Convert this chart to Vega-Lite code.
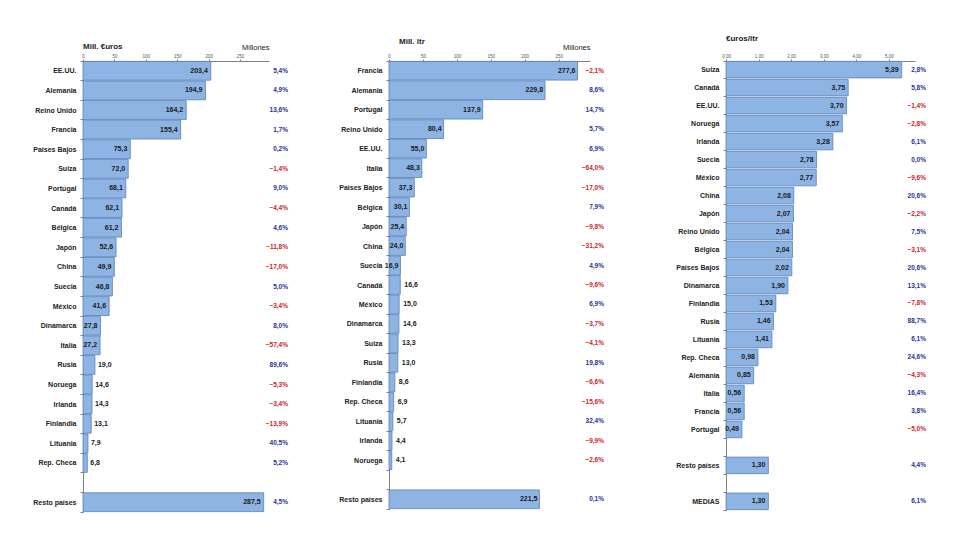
{
  "$schema": "https://vega.github.io/schema/vega-lite/v6.json",
  "padding": {"left": 5, "top": 35, "right": 5, "bottom": 5},
  "background": "white",
  "config": {
    "locale": {"number": {"decimal": ",", "thousands": ".", "grouping": [3], "currency": ["", " €"]}},
    "font": "Liberation Sans",
    "view": {"stroke": null},
    "concat": {"spacing": 10},
    "axis": {"labelOverlap": false},
    "axisY": {"domainColor": "#808080", "tickColor": "#808080", "tickBand": "extent", "tickSize": 3, "labelFontSize": 7, "labelFontWeight": "bold", "labelColor": "#222222", "labelPadding": 4, "title": null, "grid": false},
    "axisX": {"orient": "top", "domainColor": "#808080", "tickColor": "#808080", "tickSize": 2, "labelFontSize": 4.5, "labelColor": "#555555", "labelPadding": 1, "labelOverlap": false, "labelSeparation": 0, "labelBound": false, "labelFlush": false, "grid": false, "titleFontSize": 7.5, "titleFontWeight": "normal", "titleColor": "#222222", "titleAnchor": "end", "titlePadding": 2},
    "title": {"anchor": "start", "frame": "group", "fontSize": 8, "fontWeight": "bold", "color": "#222222"}
  },
  "datasets": {
    "eur": [
      {"pais": "EE.UU.", "v": 203.4, "pct": 0.054},
      {"pais": "Alemania", "v": 194.9, "pct": 0.049},
      {"pais": "Reino Unido", "v": 164.2, "pct": 0.136},
      {"pais": "Francia", "v": 155.4, "pct": 0.017},
      {"pais": "Países Bajos", "v": 75.3, "pct": 0.002},
      {"pais": "Suiza", "v": 72.0, "pct": -0.014},
      {"pais": "Portugal", "v": 68.1, "pct": 0.090},
      {"pais": "Canadá", "v": 62.1, "pct": -0.044},
      {"pais": "Bélgica", "v": 61.2, "pct": 0.046},
      {"pais": "Japón", "v": 52.6, "pct": -0.118},
      {"pais": "China", "v": 49.9, "pct": -0.170},
      {"pais": "Suecia", "v": 46.8, "pct": 0.050},
      {"pais": "México", "v": 41.6, "pct": -0.034},
      {"pais": "Dinamarca", "v": 27.8, "pct": 0.080},
      {"pais": "Italia", "v": 27.2, "pct": -0.574},
      {"pais": "Rusia", "v": 19.0, "pct": 0.896},
      {"pais": "Noruega", "v": 14.6, "pct": -0.053},
      {"pais": "Irlanda", "v": 14.3, "pct": -0.034},
      {"pais": "Finlandia", "v": 13.1, "pct": -0.139},
      {"pais": "Lituania", "v": 7.9, "pct": 0.405},
      {"pais": "Rep. Checa", "v": 6.8, "pct": 0.052},
      {"pais": "Resto países", "v": 287.5, "pct": 0.045}
    ],
    "ltr": [
      {"pais": "Francia", "v": 277.6, "pct": -0.021},
      {"pais": "Alemania", "v": 229.8, "pct": 0.086},
      {"pais": "Portugal", "v": 137.9, "pct": 0.147},
      {"pais": "Reino Unido", "v": 80.4, "pct": 0.057},
      {"pais": "EE.UU.", "v": 55.0, "pct": 0.069},
      {"pais": "Italia", "v": 48.3, "pct": -0.640},
      {"pais": "Países Bajos", "v": 37.3, "pct": -0.170},
      {"pais": "Bélgica", "v": 30.1, "pct": 0.079},
      {"pais": "Japón", "v": 25.4, "pct": -0.098},
      {"pais": "China", "v": 24.0, "pct": -0.312},
      {"pais": "Suecia", "v": 16.9, "pct": 0.049},
      {"pais": "Canadá", "v": 16.6, "pct": -0.096},
      {"pais": "México", "v": 15.0, "pct": 0.069},
      {"pais": "Dinamarca", "v": 14.6, "pct": -0.037},
      {"pais": "Suiza", "v": 13.3, "pct": -0.041},
      {"pais": "Rusia", "v": 13.0, "pct": 0.198},
      {"pais": "Finlandia", "v": 8.6, "pct": -0.066},
      {"pais": "Rep. Checa", "v": 6.9, "pct": -0.156},
      {"pais": "Lituania", "v": 5.7, "pct": 0.324},
      {"pais": "Irlanda", "v": 4.4, "pct": -0.099},
      {"pais": "Noruega", "v": 4.1, "pct": -0.026},
      {"pais": "Resto países", "v": 221.5, "pct": 0.001}
    ],
    "pl": [
      {"pais": "Suiza", "v": 5.39, "pct": 0.028},
      {"pais": "Canadá", "v": 3.75, "pct": 0.058},
      {"pais": "EE.UU.", "v": 3.70, "pct": -0.014},
      {"pais": "Noruega", "v": 3.57, "pct": -0.028},
      {"pais": "Irlanda", "v": 3.28, "pct": 0.061},
      {"pais": "Suecia", "v": 2.78, "pct": 0.000},
      {"pais": "México", "v": 2.77, "pct": -0.096},
      {"pais": "China", "v": 2.08, "pct": 0.206},
      {"pais": "Japón", "v": 2.07, "pct": -0.022},
      {"pais": "Reino Unido", "v": 2.04, "pct": 0.075},
      {"pais": "Bélgica", "v": 2.04, "pct": -0.031},
      {"pais": "Países Bajos", "v": 2.02, "pct": 0.206},
      {"pais": "Dinamarca", "v": 1.90, "pct": 0.131},
      {"pais": "Finlandia", "v": 1.53, "pct": -0.078},
      {"pais": "Rusia", "v": 1.46, "pct": 0.887},
      {"pais": "Lituania", "v": 1.41, "pct": 0.061},
      {"pais": "Rep. Checa", "v": 0.98, "pct": 0.246},
      {"pais": "Alemania", "v": 0.85, "pct": -0.043},
      {"pais": "Italia", "v": 0.56, "pct": 0.164},
      {"pais": "Francia", "v": 0.56, "pct": 0.038},
      {"pais": "Portugal", "v": 0.49, "pct": -0.050},
      {"pais": "Resto países", "v": 1.30, "pct": 0.044},
      {"pais": "MEDIAS", "v": 1.30, "pct": 0.061}
    ]
  },
  "hconcat": [
    {
      "width": 186,
      "height": 451,
      "data": {"name": "eur"},
      "title": {"text": "Mill. €uros", "offset": -8},
      "encoding": {
        "y": {"field": "pais", "type": "nominal", "scale": {"domain": ["EE.UU.", "Alemania", "Reino Unido", "Francia", "Países Bajos", "Suiza", "Portugal", "Canadá", "Bélgica", "Japón", "China", "Suecia", "México", "Dinamarca", "Italia", "Rusia", "Noruega", "Irlanda", "Finlandia", "Lituania", "Rep. Checa", " ", "Resto países"], "paddingInner": 0.04, "paddingOuter": 0.02}, "axis": {"minExtent": 78, "maxExtent": 78}}
      },
      "layer": [
        {"mark": {"type": "bar", "fill": "#8eb4e3", "stroke": "#5a80b8", "strokeWidth": 0.8},
         "encoding": {"x": {"field": "v", "type": "quantitative", "scale": {"domain": [0, 296], "nice": false}, "axis": {"values": [0, 50, 100, 150, 200, 250], "tickCount": 6, "labelOverlap": false, "title": "Millones"}}}},
        {"transform": [{"filter": "datum.v >= 25"}],
         "mark": {"type": "text", "align": "right", "dx": -3, "fontSize": 7, "fontWeight": "bold", "color": "#1a1a1a"},
         "encoding": {"x": {"field": "v", "type": "quantitative"}, "text": {"field": "v", "format": ".1f"}}},
        {"transform": [{"filter": "datum.v < 25"}],
         "mark": {"type": "text", "align": "left", "dx": 3, "fontSize": 7, "fontWeight": "bold", "color": "#1a1a1a"},
         "encoding": {"x": {"field": "v", "type": "quantitative"}, "text": {"field": "v", "format": ".1f"}}},
        {"mark": {"type": "text", "align": "right", "dx": 19, "fontSize": 6.5, "fontWeight": "bold"},
         "encoding": {"x": {"datum": 296}, "text": {"field": "pct", "format": ".1%"},
           "color": {"condition": {"test": "datum.pct < 0", "value": "#c8262c"}, "value": "#2e3192"}}}
      ]
    },
    {
      "width": 201,
      "height": 448,
      "data": {"name": "ltr"},
      "title": {"text": "Mill. ltr", "offset": -3, "dx": 10},
      "encoding": {
        "y": {"field": "pais", "type": "nominal", "scale": {"domain": ["Francia", "Alemania", "Portugal", "Reino Unido", "EE.UU.", "Italia", "Países Bajos", "Bélgica", "Japón", "China", "Suecia", "Canadá", "México", "Dinamarca", "Suiza", "Rusia", "Finlandia", "Rep. Checa", "Lituania", "Irlanda", "Noruega", " ", "Resto países"], "paddingInner": 0.04, "paddingOuter": 0.02}, "axis": {"minExtent": 91, "maxExtent": 91}}
      },
      "layer": [
        {"mark": {"type": "bar", "fill": "#8eb4e3", "stroke": "#5a80b8", "strokeWidth": 0.8},
         "encoding": {"x": {"field": "v", "type": "quantitative", "scale": {"domain": [0, 296], "nice": false}, "axis": {"values": [0, 50, 100, 150, 200, 250], "tickCount": 6, "labelOverlap": false, "title": "Millones"}}}},
        {"transform": [{"filter": "datum.v >= 16.7"}],
         "mark": {"type": "text", "align": "right", "dx": -2, "fontSize": 7, "fontWeight": "bold", "color": "#1a1a1a"},
         "encoding": {"x": {"field": "v", "type": "quantitative"}, "text": {"field": "v", "format": ".1f"}}},
        {"transform": [{"filter": "datum.v < 16.7"}],
         "mark": {"type": "text", "align": "left", "dx": 4, "fontSize": 7, "fontWeight": "bold", "color": "#1a1a1a"},
         "encoding": {"x": {"field": "v", "type": "quantitative"}, "text": {"field": "v", "format": ".1f"}}},
        {"mark": {"type": "text", "align": "right", "dx": 14, "fontSize": 6.5, "fontWeight": "bold"},
         "encoding": {"x": {"datum": 296}, "text": {"field": "pct", "format": ".1%"},
           "color": {"condition": {"test": "datum.pct < 0", "value": "#c8262c"}, "value": "#2e3192"}}}
      ]
    },
    {
      "width": 189,
      "height": 449,
      "data": {"name": "pl"},
      "title": {"text": "€uros/ltr", "offset": 10},
      "encoding": {
        "y": {"field": "pais", "type": "nominal", "scale": {"domain": ["Suiza", "Canadá", "EE.UU.", "Noruega", "Irlanda", "Suecia", "México", "China", "Japón", "Reino Unido", "Bélgica", "Países Bajos", "Dinamarca", "Finlandia", "Rusia", "Lituania", "Rep. Checa", "Alemania", "Italia", "Francia", "Portugal", " ", "Resto países", "  ", "MEDIAS"], "paddingInner": 0.08, "paddingOuter": 0.02}, "axis": {"minExtent": 112, "maxExtent": 112}}
      },
      "layer": [
        {"mark": {"type": "bar", "fill": "#8eb4e3", "stroke": "#5a80b8", "strokeWidth": 0.8},
         "encoding": {"x": {"field": "v", "type": "quantitative", "scale": {"domain": [0, 5.8], "nice": false}, "axis": {"values": [0, 1, 2, 3, 4, 5], "tickCount": 6, "labelOverlap": false, "format": ".2f", "title": null}}}},
        {"mark": {"type": "text", "align": "right", "dx": -3, "fontSize": 7, "fontWeight": "bold", "color": "#1a1a1a"},
         "encoding": {"x": {"field": "v", "type": "quantitative"}, "text": {"field": "v", "format": ".2f"}}},
        {"mark": {"type": "text", "align": "right", "dx": 11, "fontSize": 6.5, "fontWeight": "bold"},
         "encoding": {"x": {"datum": 5.8}, "text": {"field": "pct", "format": ".1%"},
           "color": {"condition": {"test": "datum.pct < 0", "value": "#c8262c"}, "value": "#2e3192"}}}
      ]
    }
  ]
}
